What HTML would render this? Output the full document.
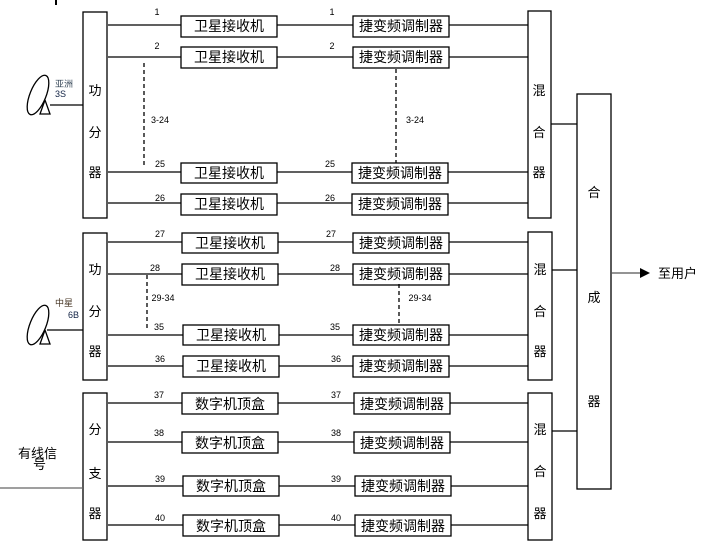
<!DOCTYPE html>
<html><head><meta charset="utf-8"><style>
html,body{margin:0;padding:0;background:#fff}
svg{display:block}
text{font-family:"Liberation Sans","Noto Sans CJK SC",sans-serif;fill:#000}
.b{font-size:14px}
.n{font-size:9px}
.v{font-size:13px}
</style></head><body>
<svg width="721" height="557" viewBox="0 0 721 557" xmlns="http://www.w3.org/2000/svg">
<g stroke="#000" stroke-width="1.3" fill="none">
<line x1="56" y1="0" x2="56" y2="5" stroke-width="2"/>
<rect x="83" y="12" width="24" height="206"/>
<rect x="83" y="233" width="24" height="147"/>
<rect x="83" y="393" width="24" height="147"/>
<rect x="528" y="11" width="23" height="207"/>
<rect x="528" y="232" width="24" height="148"/>
<rect x="528" y="393" width="24" height="147"/>
<rect x="577" y="94" width="34" height="395"/>
<line x1="551" y1="124" x2="577" y2="124"/>
<line x1="552" y1="270" x2="577" y2="270"/>
<line x1="552" y1="431" x2="577" y2="431"/>
<line x1="611" y1="273" x2="640" y2="273" stroke="#555"/>
<line x1="108" y1="25" x2="528" y2="25"/>
<line x1="108" y1="57" x2="528" y2="57"/>
<line x1="108" y1="172" x2="528" y2="172"/>
<line x1="108" y1="203" x2="528" y2="203"/>
<line x1="108" y1="242" x2="528" y2="242"/>
<line x1="108" y1="274" x2="528" y2="274"/>
<line x1="108" y1="335" x2="528" y2="335"/>
<line x1="108" y1="366" x2="528" y2="366"/>
<line x1="108" y1="403" x2="528" y2="403"/>
<line x1="108" y1="442" x2="528" y2="442"/>
<line x1="108" y1="486" x2="528" y2="486"/>
<line x1="108" y1="525" x2="528" y2="525"/>
<g fill="#fff">
<rect x="181" y="16" width="96" height="21"/><rect x="353" y="16" width="96" height="21"/>
<rect x="181" y="47" width="96" height="21"/><rect x="353" y="47" width="96" height="21"/>
<rect x="181" y="163" width="96" height="20"/><rect x="352" y="163" width="96" height="20"/>
<rect x="181" y="194" width="96" height="21"/><rect x="352" y="194" width="96" height="21"/>
<rect x="182" y="233" width="96" height="20"/><rect x="353" y="233" width="96" height="20"/>
<rect x="182" y="264" width="96" height="21"/><rect x="353" y="264" width="96" height="21"/>
<rect x="183" y="325" width="96" height="20"/><rect x="353" y="325" width="96" height="20"/>
<rect x="183" y="356" width="96" height="21"/><rect x="353" y="356" width="96" height="21"/>
<rect x="182" y="393" width="96" height="21"/><rect x="354" y="393" width="96" height="21"/>
<rect x="182" y="432" width="96" height="21"/><rect x="354" y="432" width="96" height="21"/>
<rect x="183" y="476" width="96" height="20"/><rect x="355" y="476" width="96" height="20"/>
<rect x="183" y="515" width="96" height="21"/><rect x="355" y="515" width="96" height="21"/>
</g>
<g stroke-dasharray="4,3">
<line x1="144" y1="63" x2="144" y2="165"/>
<line x1="396" y1="69" x2="396" y2="163"/>
<line x1="147" y1="275" x2="147" y2="328"/>
<line x1="399" y1="284" x2="399" y2="325"/>
</g>
<ellipse cx="38" cy="95" rx="8" ry="21" transform="rotate(22 38 95)"/>
<path d="M45 100 L40 114 L50 114 Z"/>
<line x1="50" y1="105" x2="83" y2="105"/>
<ellipse cx="38" cy="325" rx="8" ry="21" transform="rotate(22 38 325)"/>
<path d="M45 330 L40 344 L50 344 Z"/>
<line x1="47" y1="330" x2="83" y2="330"/>
<line x1="0" y1="488" x2="83" y2="488" stroke="#666"/>
</g>
<path d="M640 268 L650 273 L640 278 Z" fill="#000"/>
<g class="b" text-anchor="middle">
<text x="229" y="31">卫星接收机</text><text x="401" y="31">捷变频调制器</text>
<text x="229" y="62">卫星接收机</text><text x="401" y="62">捷变频调制器</text>
<text x="229" y="178">卫星接收机</text><text x="400" y="178">捷变频调制器</text>
<text x="229" y="209">卫星接收机</text><text x="400" y="209">捷变频调制器</text>
<text x="230" y="248">卫星接收机</text><text x="401" y="248">捷变频调制器</text>
<text x="230" y="279">卫星接收机</text><text x="401" y="279">捷变频调制器</text>
<text x="231" y="340">卫星接收机</text><text x="401" y="340">捷变频调制器</text>
<text x="231" y="371">卫星接收机</text><text x="401" y="371">捷变频调制器</text>
<text x="230" y="409">数字机顶盒</text><text x="402" y="409">捷变频调制器</text>
<text x="230" y="448">数字机顶盒</text><text x="402" y="448">捷变频调制器</text>
<text x="231" y="491">数字机顶盒</text><text x="403" y="491">捷变频调制器</text>
<text x="231" y="531">数字机顶盒</text><text x="403" y="531">捷变频调制器</text>
</g>
<g class="n" text-anchor="middle">
<text x="157" y="15">1</text><text x="332" y="15">1</text>
<text x="157" y="49">2</text><text x="332" y="49">2</text>
<text x="160" y="167">25</text><text x="330" y="167">25</text>
<text x="160" y="201">26</text><text x="330" y="201">26</text>
<text x="160" y="237">27</text><text x="331" y="237">27</text>
<text x="155" y="271">28</text><text x="335" y="271">28</text>
<text x="159" y="330">35</text><text x="335" y="330">35</text>
<text x="160" y="362">36</text><text x="336" y="362">36</text>
<text x="159" y="398">37</text><text x="336" y="398">37</text>
<text x="159" y="436">38</text><text x="336" y="436">38</text>
<text x="160" y="482">39</text><text x="336" y="482">39</text>
<text x="160" y="521">40</text><text x="336" y="521">40</text>
<text x="160" y="123">3-24</text><text x="415" y="123">3-24</text>
<text x="163" y="301">29-34</text><text x="420" y="301">29-34</text>
</g>
<g class="v" text-anchor="middle">
<text x="95" y="95">功</text><text x="95" y="137">分</text><text x="95" y="177">器</text>
<text x="95" y="274">功</text><text x="95" y="316">分</text><text x="95" y="356">器</text>
<text x="95" y="434">分</text><text x="95" y="478">支</text><text x="95" y="518">器</text>
<text x="539" y="95">混</text><text x="539" y="137">合</text><text x="539" y="177">器</text>
<text x="540" y="274">混</text><text x="540" y="316">合</text><text x="540" y="356">器</text>
<text x="540" y="434">混</text><text x="540" y="476">合</text><text x="540" y="518">器</text>
<text x="594" y="197">合</text><text x="594" y="302">成</text><text x="594" y="406">器</text>
</g>
<text x="55" y="87" style="font-size:9px;fill:#345">亚洲</text>
<text x="55" y="97" style="font-size:9px;fill:#124">3S</text>
<text x="55" y="306" style="font-size:9px;fill:#432">中星</text>
<text x="68" y="318" style="font-size:9px;fill:#124">6B</text>
<text x="18" y="458" style="font-size:13px">有线信</text>
<text x="33" y="469" style="font-size:13px">号</text>
<text x="658" y="278" style="font-size:13px">至用户</text>
</svg>
</body></html>
